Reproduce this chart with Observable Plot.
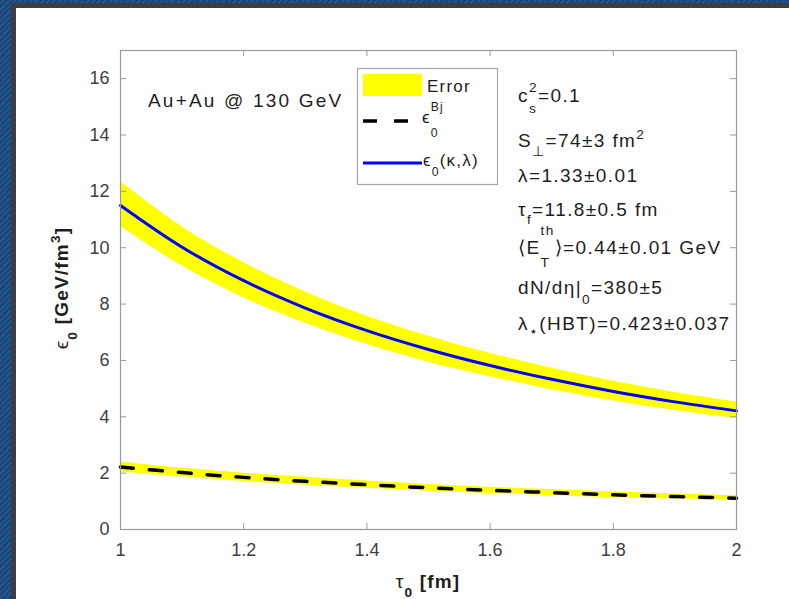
<!DOCTYPE html>
<html><head><meta charset="utf-8">
<script src="https://cdn.jsdelivr.net/npm/d3@7"></script>
<script src="https://cdn.jsdelivr.net/npm/@observablehq/plot@0.6"></script>
<style>
html,body{margin:0;padding:0;}
body{width:789px;height:599px;overflow:hidden;position:relative;
 background:repeating-linear-gradient(135deg,#1a4677 0px,#1a4677 2px,#21538c 2px,#21538c 4px);}
#panel{position:absolute;left:11px;top:3px;width:773px;height:591px;background:#fff;border-left:5px solid #3d3d3d;border-top:5px solid #3d3d3d;}
#chart{position:absolute;left:0;top:0;width:789px;height:599px;}
#chart svg{position:absolute;left:0;top:0;}
#leg{position:absolute;left:0;top:0;}
.t{position:absolute;line-height:0;white-space:nowrap;font-family:"Liberation Sans",Arial,sans-serif;color:#1e1e1e;}
.s{font-size:0.72em;position:relative;line-height:0;}
.stk{display:inline-block;height:0;line-height:0;font-size:0.72em;vertical-align:baseline;}
.stk .s2{display:block;position:relative;line-height:0;}
.b{font-weight:bold;}
</style>
</head><body>
<div id="panel"></div>
<div id="chart"></div>
<script>
// ---- data ----
const tau = [1.0, 1.1, 1.2, 1.3, 1.4, 1.5, 1.6, 1.7, 1.8, 1.9, 2.0];
const epsModel     = [11.50, 10.02, 8.83, 7.86, 7.06, 6.39, 5.82, 5.33, 4.90, 4.53, 4.21];
const epsModelLow  = [10.75, 9.35, 8.22, 7.32, 6.57, 5.94, 5.42, 4.96, 4.56, 4.22, 3.93];
const epsModelHigh = [12.35, 10.74, 9.47, 8.43, 7.57, 6.86, 6.25, 5.72, 5.26, 4.86, 4.52];
const epsBj     = [2.22, 2.02, 1.85, 1.71, 1.59, 1.48, 1.39, 1.31, 1.23, 1.17, 1.11];
const epsBjLow  = [2.04, 1.86, 1.70, 1.57, 1.46, 1.36, 1.28, 1.20, 1.13, 1.08, 1.02];
const epsBjHigh = [2.40, 2.18, 2.00, 1.85, 1.72, 1.60, 1.50, 1.42, 1.33, 1.26, 1.20];
const xTicks = [1, 1.2, 1.4, 1.6, 1.8, 2];
const xTickLabels = ["1", "1.2", "1.4", "1.6", "1.8", "2"];
const yTicks = [0, 2, 4, 6, 8, 10, 12, 14, 16];
const yTickLabels = ["0", "2", "4", "6", "8", "10", "12", "14", "16"];

const rowsModel = tau.map((t, i) => ({tau: t, mid: epsModel[i], lo: epsModelLow[i], hi: epsModelHigh[i]}));
const rowsBj = tau.map((t, i) => ({tau: t, mid: epsBj[i], lo: epsBjLow[i], hi: epsBjHigh[i]}));

const W = 789, H = 599, mL = 120, mR = 53, mT = 50, mB = 70;
const innerW = W - mL - mR, innerH = H - mT - mB;
const axisColor = "#9a9a9a";
const tickLen = 6;

const plot = Plot.plot({
  width: W, height: H,
  marginLeft: mL, marginRight: mR, marginTop: mT, marginBottom: mB,
  style: {background: "transparent", fontFamily: "'Liberation Sans', Arial, sans-serif", fontSize: "18px", color: "#404040", overflow: "visible"},
  x: {domain: [1, 2]},
  y: {domain: [0, 17]},
  marks: [
    Plot.areaY(rowsModel, {x: "tau", y1: "lo", y2: "hi", fill: "#ffff00", curve: "catmull-rom"}),
    Plot.areaY(rowsBj, {x: "tau", y1: "lo", y2: "hi", fill: "#ffff00", curve: "catmull-rom"}),
    Plot.line(rowsBj, {x: "tau", y: "mid", stroke: "#000", strokeWidth: 3.5, strokeDasharray: "13,16", curve: "catmull-rom"}),
    Plot.line(rowsModel, {x: "tau", y: "mid", stroke: "#0000ff", strokeWidth: 3, curve: "catmull-rom"}),
    Plot.frame({stroke: axisColor, strokeWidth: 1.2}),
    Plot.ruleX(xTicks, {x: d => d, insetTop: innerH - tickLen, stroke: axisColor}),
    Plot.ruleX(xTicks, {x: d => d, insetBottom: innerH - tickLen, stroke: axisColor}),
    Plot.ruleY(yTicks, {y: d => d, insetRight: innerW - tickLen, stroke: axisColor}),
    Plot.ruleY(yTicks, {y: d => d, insetLeft: innerW - tickLen, stroke: axisColor}),
    Plot.axisX({ticks: xTicks, tickFormat: d => xTickLabels[xTicks.indexOf(d)], tickSize: 0, tickPadding: 14, label: null}),
    Plot.axisY({ticks: yTicks, tickFormat: d => yTickLabels[yTicks.indexOf(d)], tickSize: 0, tickPadding: 11, label: null})
  ]
});
document.getElementById("chart").appendChild(plot);

// ---- legend decorations ----
const ns = "http://www.w3.org/2000/svg";
const leg = document.createElementNS(ns, "svg");
leg.setAttribute("id", "leg");
leg.setAttribute("width", W); leg.setAttribute("height", H);
leg.innerHTML = `
  <rect x="357.5" y="68.5" width="140" height="116" fill="#fff" stroke="#a8a8a8" stroke-width="1.2"/>
  <rect x="363" y="74" width="59" height="22" fill="#ffff00"/>
  <line x1="363" x2="422" y1="121" y2="121" stroke="#000" stroke-width="3.5" stroke-dasharray="14,17"/>
  <line x1="363" x2="422" y1="163" y2="163" stroke="#0000ff" stroke-width="3"/>`;
document.body.appendChild(leg);

// ---- text helpers ----
const sm = (t, dy) => `<span class="s" style="top:${dy}px">${t}</span>`;
const st = (up, dn, dyU, dyD) => `<span class="stk"><span class="s2" style="top:${dyU}px">${up}</span><span class="s2" style="top:${dyD}px">${dn}</span></span>`;
function addText(html, left, baseline, fs, opts = {}) {
  const d = document.createElement("div");
  d.className = "t" + (opts.bold ? " b" : "");
  d.style.fontSize = fs + "px";
  d.style.letterSpacing = (opts.ls ?? 1.4) + "px";
  d.style.left = left + "px";
  d.style.top = (baseline - 0.3465 * fs) + "px";
  if (opts.transform) { d.style.transformOrigin = "0 0"; d.style.transform = opts.transform; }
  d.innerHTML = html;
  document.body.appendChild(d);
  return d;
}

// annotations
addText("Au+Au @ 130 GeV", 148, 108, 19, {ls: 2.2});
const ax = 518, afs = 19;
addText(`c${st("2", "s", -10, 11)}=0.1`, ax, 103, afs);
addText(`S${sm("⊥", 9)}=74±3 fm${sm("2", -8)}`, ax, 148, afs);
addText(`λ=1.33±0.01`, ax, 183, afs);
addText(`τ${sm("f", 8)}=11.8±0.5 fm`, ax, 217, afs);
addText(`⟨E${st("th", "T", -19, 13)}⟩=0.44±0.01 GeV`, ax, 255, afs);
addText(`dN/dη|${sm("0", 10)}=380±5`, ax, 295, afs);
addText(`λ${sm("⋆", 6)}(HBT)=0.423±0.037`, ax, 331, afs);

// legend texts
addText("Error", 427, 93, 17, {ls: 1.2});
addText(`ϵ${st("Bj", "0", -12, 14)}`, 422, 124, 17, {ls: 1.2});
addText(`ϵ${sm("0", 10)}(κ,λ)`, 423, 167, 17, {ls: 1.2});

// axis titles
addText(`<span style="font-weight:normal">τ</span>${sm("0", 9)} [fm]`, 428, 589, 19, {bold: true, ls: 1.2, transform: "translateX(-50%)"});
const yl = addText(`<span style="font-weight:normal">ϵ</span>${sm("0", 9)} [GeV/fm${sm("3", -8)}]`, 0, 0, 19, {bold: true, ls: 1.2});
yl.style.left = "62px"; yl.style.top = "288px";
yl.style.transformOrigin = "0 0";
yl.style.transform = "rotate(-90deg) translateX(-50%)";
</script>
</body></html>
